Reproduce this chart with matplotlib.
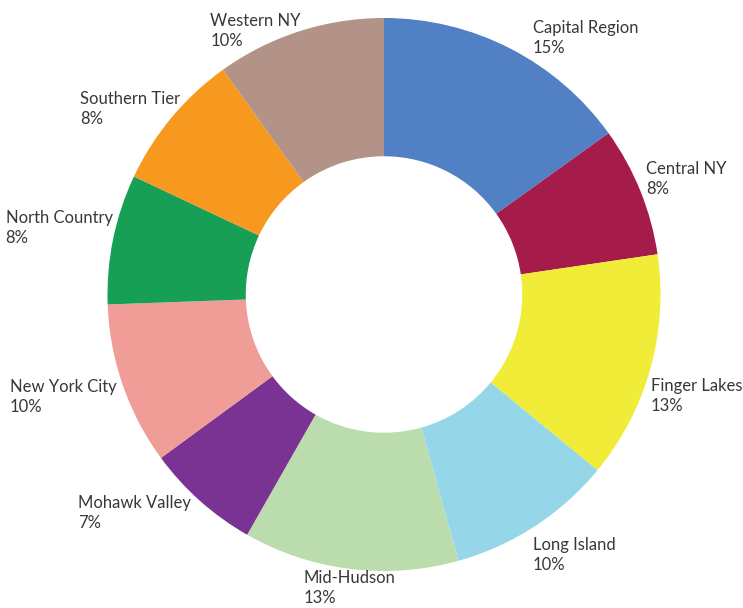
import numpy as np
import matplotlib.pyplot as plt

# Share of total by region (read from the ring, clockwise from top)
regions = ['Capital Region', 'Central NY', 'Finger Lakes', 'Long Island', 'Mid-Hudson',
           'Mohawk Valley', 'New York City', 'North Country', 'Southern Tier', 'Western NY']
shares = [15.1, 7.6, 13.3, 9.7, 12.6, 6.7, 9.5, 7.6, 8.1, 9.9]
pct_labels = ['15%', '8%', '13%', '10%', '13%', '7%', '10%', '8%', '8%', '10%']

colors = ['#5180C4', '#A51C4A', '#F1EC37', '#95D7E9', '#BBDCAD',
          '#7B3393', '#EF9D96', '#169F55', '#F7981F', '#B39387']

# label nudges in pixels (x right, y down)
nudges = [(20, -6), (1, -10), (-5, 26), (-5, 24), (0, 14),
          (-5, 8), (-1, 10), (5, -10), (13, -5), (3, 5)]

W, H = 743, 608
cx, cy, R = 384, 294.5, 276.5

plt.rcParams['font.family'] = ['Lato', 'DejaVu Sans']

fig = plt.figure(figsize=(W / 100, H / 100), dpi=100)
ax = fig.add_axes([0, 0, 1, 1])

wedges, _ = ax.pie(shares, colors=colors, startangle=90, counterclock=False,
                   radius=1.0, wedgeprops=dict(width=0.5, linewidth=0, antialiased=True))

ax.set_xlim(-cx / R, (W - cx) / R)
ax.set_ylim(-(H - cy) / R, cy / R)
ax.set_aspect('auto')
ax.axis('off')

total = sum(shares)
start = 0.0
for i, (name, val, pct) in enumerate(zip(regions, shares, pct_labels)):
    mid = np.deg2rad((start + val / 2) / total * 360)
    start += val
    x = 1.02 * np.sin(mid)
    y = 1.02 * np.cos(mid)
    if abs(x) < 0.2:
        ha = 'center'
    elif x > 0:
        ha = 'left'
    else:
        ha = 'right'
    dx, dy = nudges[i]
    ax.annotate(name + '\n' + pct, (x, y), xytext=(dx, -dy), textcoords='offset pixels',
                ha=ha, va='center', multialignment='left', fontsize=12,
                color='#383838', linespacing=1.3)

fig.savefig('out.png', dpi=100)
